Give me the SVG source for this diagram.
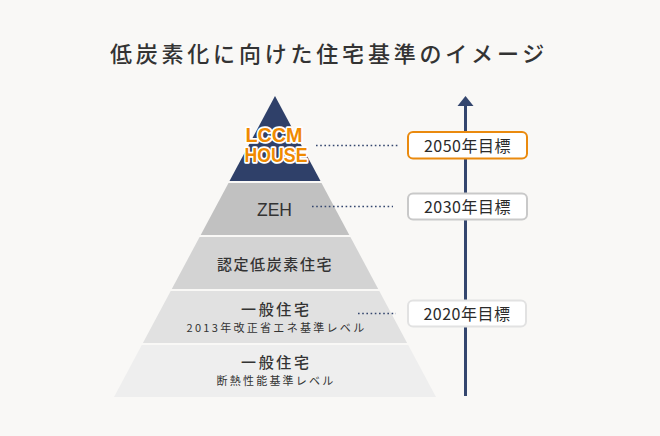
<svg xmlns="http://www.w3.org/2000/svg" width="660" height="436" viewBox="0 0 660 436">
<style>
.jp{font-family:"Noto Sans CJK JP","Noto Sans",sans-serif;fill:#333333}
.m{font-weight:500}
.dot{stroke:#34466e;stroke-width:1.6;stroke-dasharray:1.6 2.6;fill:none}
.box{fill:#ffffff;stroke-width:2}
.yr{font-family:"Noto Sans CJK JP","Noto Sans",sans-serif;font-size:16px;fill:#2b2b2b;text-anchor:middle;letter-spacing:0.5px}
</style>
<rect width="660" height="436" fill="#f9f8f6"/>
<text class="jp m" x="329" y="62" font-size="22" text-anchor="middle" letter-spacing="3.8">低炭素化に向けた住宅基準のイメージ</text>

<g id="layer-lccm">
<polygon points="275,96 320.5,181 229.5,181" fill="#2f4069"/>
<g font-family="'Liberation Sans','Noto Sans',sans-serif" font-weight="bold" font-size="20" text-anchor="middle" fill="#f08a00" stroke="#ffffff" stroke-width="3.5" stroke-linejoin="round" paint-order="stroke">
<text x="274" y="142" textLength="57" lengthAdjust="spacingAndGlyphs">LCCM</text>
<text x="276" y="162" textLength="63" lengthAdjust="spacingAndGlyphs">HOUSE</text>
</g>
</g>

<g id="layer-zeh">
<polygon points="228.5,183 321.5,183 349.3,235 200.7,235" fill="#c1c1c1"/>
<text x="274.5" y="216" font-family="'Liberation Sans','Noto Sans',sans-serif" font-size="17.5" fill="#333333" text-anchor="middle">ZEH</text>
</g>

<g id="layer-nintei">
<polygon points="199.6,237 350.4,237 378.2,289 171.8,289" fill="#d3d3d3"/>
<text class="jp m" x="275" y="269.5" font-size="15" text-anchor="middle" letter-spacing="1.6">認定低炭素住宅</text>
</g>

<g id="layer-2013">
<polygon points="170.7,291 379.3,291 407.1,343 142.9,343" fill="#e1e1e1"/>
<text class="jp m" x="276.3" y="314.5" font-size="15" text-anchor="middle" letter-spacing="2.6">一般住宅</text>
<text class="jp" x="276.5" y="331.5" font-size="11" text-anchor="middle" letter-spacing="2.3">2013年改正省エネ基準レベル</text>
</g>

<g id="layer-dannetsu">
<polygon points="141.8,345 408.2,345 436,397 114,397" fill="#eeeeee"/>
<text class="jp m" x="276.3" y="367.5" font-size="15" text-anchor="middle" letter-spacing="2.6">一般住宅</text>
<text class="jp" x="276" y="385" font-size="11" text-anchor="middle" letter-spacing="2.2">断熱性能基準レベル</text>
</g>

<g id="connectors">
<line x1="465.5" y1="396" x2="465.5" y2="106" stroke="#34466e" stroke-width="3"/>
<path d="M457.5,106 L465.5,96 L473.5,106 Z" fill="#34466e"/>
<line class="dot" x1="316" y1="145.5" x2="398" y2="145.5"/>
<line class="dot" x1="312" y1="206.5" x2="393" y2="206.5"/>
<line class="dot" x1="358" y1="313.5" x2="396" y2="313.5"/>
</g>

<g id="goal-2050">
<rect class="box" x="408" y="132" width="119" height="26.5" rx="5" stroke="#ea8a0e"/>
<text class="yr" x="467.5" y="152">2050年目標</text>
</g>
<g id="goal-2030">
<rect class="box" x="408" y="193.5" width="119" height="26" rx="5" stroke="#c9c9c9"/>
<text class="yr" x="467.5" y="213">2030年目標</text>
</g>
<g id="goal-2020">
<rect class="box" x="408" y="300.5" width="118" height="26" rx="5" stroke="#e2e2e2"/>
<text class="yr" x="467" y="320">2020年目標</text>
</g>
</svg>
